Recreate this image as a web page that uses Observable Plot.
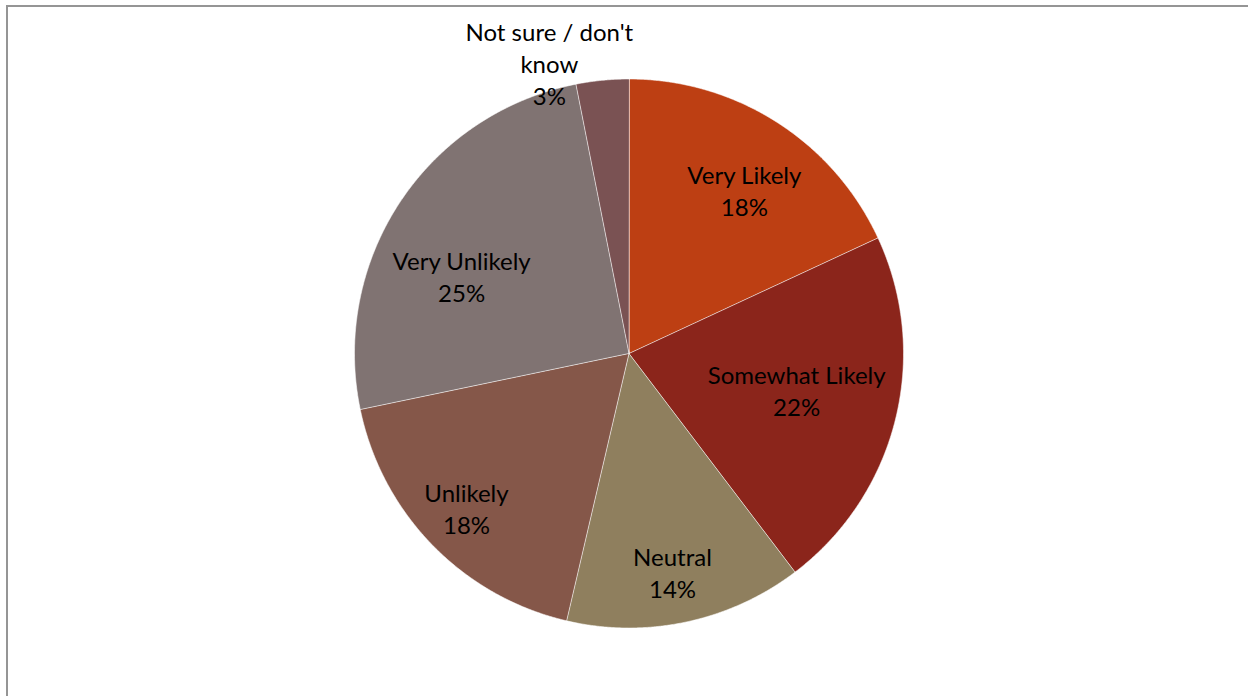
<!DOCTYPE html>
<html>
<head>
<meta charset="utf-8">
<script src="https://cdn.jsdelivr.net/npm/d3@7"></script>
<script src="https://cdn.jsdelivr.net/npm/@observablehq/plot@0.6"></script>
<style>
  html, body { margin: 0; padding: 0; background: #fff; overflow: hidden; }
  #wrap { position: relative; width: 1248px; height: 696px; }
  #border { position: absolute; left: 6px; top: 5px; width: 1400px; height: 900px;
            border: 2px solid #959595; box-sizing: border-box; pointer-events: none; }
  #chart { position: absolute; left: 0; top: 0; }
</style>
</head>
<body>
<div id="wrap"><div id="chart"></div><div id="border"></div></div>
<script>
// ---- data ----
const categories = ["Very Likely", "Somewhat Likely", "Neutral", "Unlikely", "Very Unlikely", "Not sure / don't know"];
const shares = [18.1, 21.6, 14.0, 18.1, 25.2, 3.1];
const percentLabels = ["18%", "22%", "14%", "18%", "25%", "3%"];
const labelText = ["Very Likely", "Somewhat Likely", "Neutral", "Unlikely", "Very Unlikely", "Not sure / don't\nknow"];

// ---- style / layout (not data) ----
const colors = ["#bd3f13", "#8b251b", "#8f7f5e", "#855749", "#807372", "#7a5253"];
// label placement: fraction of radius, angle in degrees clockwise from 12 o'clock
const labelRadius = [0.72, 0.627, 0.823, 0.823, 0.668, 1.086];
const labelAngle = [35.7, 103.1, 168.9, 226, 294.1, 344.5];

const rows = categories.map((c, i) => ({category: c, value: shares[i]}));
const arcs = d3.pie().sort(null).value(d => d.value)(rows);

const pts = [];
arcs.forEach(a => {
  const cat = a.data.category;
  pts.push({category: cat, x: 0, y: 0});
  const n = Math.max(2, Math.ceil((a.endAngle - a.startAngle) / (Math.PI / 720)));
  for (let k = 0; k <= n; k++) {
    const t = a.startAngle + (a.endAngle - a.startAngle) * k / n;
    pts.push({category: cat, x: Math.sin(t), y: -Math.cos(t)});
  }
});

const labels = categories.map((c, i) => {
  const t = labelAngle[i] * Math.PI / 180;
  return {text: labelText[i] + "\n" + percentLabels[i], x: labelRadius[i] * Math.sin(t), y: -labelRadius[i] * Math.cos(t)};
});

const cx = 628.5, cy = 353, r = 274.5;
const chart = Plot.plot({
  width: 1248,
  height: 696,
  margin: 0,
  x: {domain: [-1, 1], range: [cx - r, cx + r], axis: null},
  y: {domain: [-1, 1], range: [cy - r, cy + r], axis: null},
  color: {domain: categories, range: colors},
  style: {fontFamily: "Lato, 'Open Sans', sans-serif", background: "transparent"},
  marks: [
    Plot.line(pts, {x: "x", y: "y", z: "category", fill: "category", stroke: "#ffffff", strokeOpacity: 0.55, strokeWidth: 1, curve: "linear-closed"}),
    Plot.text(labels, {x: "x", y: "y", text: "text", fontSize: 24, lineHeight: 32 / 24, dy: -3, fill: "#000", lineAnchor: "middle", textAnchor: "middle"})
  ]
});
document.getElementById("chart").appendChild(chart);
</script>
</body>
</html>
